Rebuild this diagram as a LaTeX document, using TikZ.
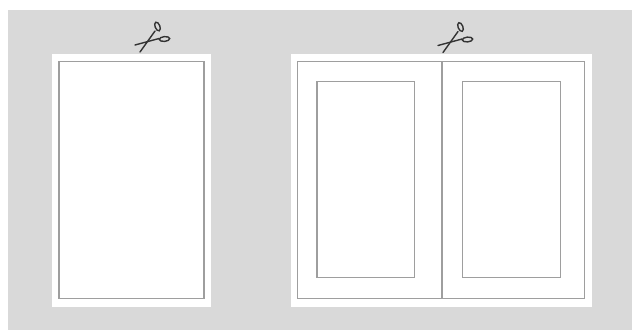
\documentclass[tikz,border=0pt]{standalone}

\tikzset{
  sheet/.style={fill=white, draw=none},
  trim/.style={draw=black!38, line width=0.95pt},
  blade/.style={draw=black!80, line width=1.05pt, line cap=round},
  scissors/.pic={
    \draw[blade] (-14,4) -- (10,-2.5);
    \draw[blade] (-9,11) -- (6,-10);
    \draw[blade, rotate around={-68:(8.5,-14.5)}] (8.5,-14.5) ellipse (4.6 and 2.4);
    \draw[blade, rotate around={5:(15.5,-2)}] (15.5,-2) ellipse (5.2 and 2.4);
  }
}

\begin{document}
\begin{tikzpicture}[x=0.75pt, y=-0.75pt]
\useasboundingbox (0,0) rectangle (633,330);
\fill[white] (0,0) rectangle (633,330);
\fill[black!15] (8,10) rectangle (632,330);
% single page
\fill[sheet] (52,53.5) rectangle (211,307);
\draw[trim] (59,61.5) rectangle (204,298.5);
% spread
\fill[sheet] (291,53.5) rectangle (592,307);
\draw[trim] (297.5,61.5) rectangle (584.5,298.5);
\draw[trim] (442,61.5) -- (442,298.5);
\draw[trim] (317,81.5) rectangle (414.5,277.5);
\draw[trim] (462.5,81.5) rectangle (560.5,277.5);
% cut marks
\path (149,41) pic {scissors};
\path (452,41.5) pic {scissors};
\end{tikzpicture}
\end{document}
